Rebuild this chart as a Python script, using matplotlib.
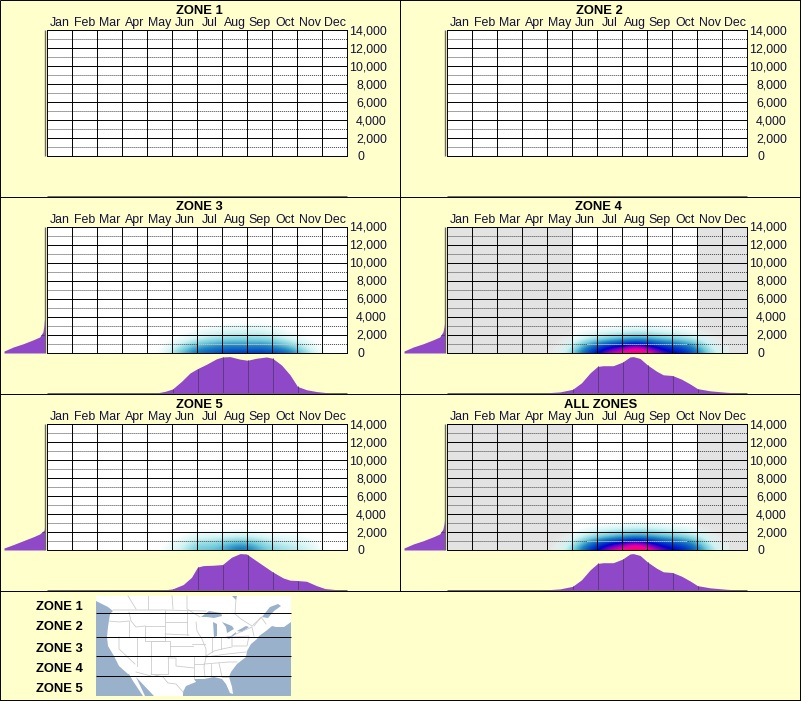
import matplotlib
matplotlib.use("Agg")
import matplotlib.pyplot as plt
import numpy as np
from matplotlib.colors import LinearSegmentedColormap

plt.rcParams["font.family"] = ["Liberation Sans", "DejaVu Sans"]

W, H = 801, 701
BG = "#ffffcc"
PURPLE = "#8f48c8"
DARK_PURPLE = "#5c3a80"
OLIVE = "#6c6c58"
TEXT = "#14103a"
SEA = "#9ab1cb"
THIN = 0.7  # one pixel after snapping
DOTS = (0, (1.03, 1.03))

MONTHS = ["Jan", "Feb", "Mar", "Apr", "May", "Jun", "Jul", "Aug", "Sep", "Oct", "Nov", "Dec"]
ELEV_TICKS = [0, 2000, 4000, 6000, 8000, 10000, 12000, 14000]
ELEV_LABELS = ["0", "2,000", "4,000", "6,000", "8,000", "10,000", "12,000", "14,000"]
DOTTED_ELEVS = [1000, 3000, 5000, 7000, 9000, 11000, 13000]

HEAT_MONTHS = [4, 4.5, 5, 5.5, 6, 6.5, 7, 7.5, 8, 8.5, 9, 9.5, 10, 10.5, 11]
HEAT_ELEVS = [0, 500, 1000, 1500, 2000, 2500, 3000, 3500]

# density by elevation (rows) and month (columns), 0 to 1
heat_zone3 = [
    [0, .02, .20, .38, .50, .55, .60, .62, .62, .63, .60, .55, .40, .20, .02],
    [0, 0, .12, .30, .42, .47, .50, .52, .50, .52, .48, .42, .30, .10, 0],
    [0, 0, .06, .18, .30, .36, .40, .42, .40, .42, .38, .30, .18, .06, 0],
    [0, 0, .02, .09, .17, .23, .27, .28, .28, .28, .25, .17, .09, .02, 0],
    [0, 0, 0, .03, .08, .13, .16, .18, .18, .18, .15, .08, .03, 0, 0],
    [0, 0, 0, 0, .03, .06, .09, .11, .11, .11, .07, .03, 0, 0, 0],
    [0, 0, 0, 0, 0, .01, .03, .05, .05, .05, .02, 0, 0, 0, 0],
    [0, 0, 0, 0, 0, 0, 0, .01, .01, 0, 0, 0, 0, 0, 0],
]
heat_zone4 = [
    [0, .06, .27, .55, .72, .88, .93, 1.0, .95, .82, .74, .66, .50, .25, .05],
    [0, .03, .20, .46, .62, .75, .84, .94, .86, .72, .64, .58, .42, .18, .03],
    [0, .01, .12, .32, .48, .58, .64, .72, .66, .56, .50, .44, .30, .11, .01],
    [0, 0, .05, .18, .27, .34, .40, .44, .42, .36, .32, .27, .18, .05, 0],
    [0, 0, .01, .08, .15, .20, .24, .27, .26, .22, .18, .14, .08, .01, 0],
    [0, 0, 0, .02, .05, .08, .10, .14, .13, .10, .08, .05, .02, 0, 0],
    [0, 0, 0, 0, 0, 0, .02, .04, .04, .02, 0, 0, 0, 0, 0],
    [0, 0, 0, 0, 0, 0, 0, 0, 0, 0, 0, 0, 0, 0, 0],
]
heat_zone5 = [
    [0, .01, .08, .18, .32, .32, .37, .48, .50, .36, .27, .22, .18, .12, .01],
    [0, 0, .05, .14, .27, .27, .32, .42, .42, .30, .22, .18, .14, .09, 0],
    [0, 0, .03, .09, .19, .19, .23, .28, .28, .22, .15, .12, .09, .05, 0],
    [0, 0, 0, .04, .10, .10, .12, .15, .15, .11, .07, .06, .04, .01, 0],
    [0, 0, 0, 0, .02, .03, .03, .05, .05, .03, .01, .01, 0, 0, 0],
    [0, 0, 0, 0, 0, 0, 0, 0, 0, 0, 0, 0, 0, 0, 0],
    [0, 0, 0, 0, 0, 0, 0, 0, 0, 0, 0, 0, 0, 0, 0],
    [0, 0, 0, 0, 0, 0, 0, 0, 0, 0, 0, 0, 0, 0, 0],
]
heat_all = [
    [0, .06, .27, .55, .72, .88, .94, 1.0, .96, .83, .74, .66, .50, .25, .05],
    [0, .03, .20, .46, .62, .76, .85, .95, .87, .72, .64, .58, .42, .18, .03],
    [0, .01, .12, .32, .48, .58, .65, .73, .67, .56, .50, .44, .30, .11, .01],
    [0, 0, .05, .18, .27, .34, .40, .44, .42, .36, .32, .27, .18, .05, 0],
    [0, 0, .01, .08, .15, .20, .24, .27, .26, .22, .18, .14, .08, .01, 0],
    [0, 0, 0, .02, .05, .08, .10, .14, .13, .10, .08, .05, .02, 0, 0],
    [0, 0, 0, 0, 0, 0, .02, .04, .04, .02, 0, 0, 0, 0, 0],
    [0, 0, 0, 0, 0, 0, 0, 0, 0, 0, 0, 0, 0, 0, 0],
]

# month profile under each plot
top_x_zone3 = [4.36, 4.7, 5, 5.36, 5.7, 6, 6.36, 6.76, 7, 7.3, 7.7, 8, 8.36, 8.76, 9, 9.36, 9.7, 10, 10.36, 10.76, 11.3]
top_y_zone3 = [0, .045, .11, .32, .55, .67, .79, .94, .99, 1, .93, .9, .955, .99, .955, .77, .5, .18, .09, .04, 0]
top_x_zone4 = [3.83, 4.5, 5, 5.36, 5.7, 6, 6.23, 6.63, 7, 7.3, 7.43, 7.7, 8, 8.36, 8.63, 9, 9.36, 9.7, 10, 10.5, 11.16, 11.7]
top_y_zone4 = [0, .03, .1, .28, .55, .73, .75, .75, .85, .99, 1, .95, .77, .6, .5, .48, .38, .25, .12, .06, .02, 0]
top_x_zone5 = [4.63, 5, 5.43, 5.76, 6, 6.23, 6.63, 7, 7.36, 7.7, 7.96, 8.36, 9, 9.43, 9.7, 10, 10.36, 10.76, 11.1, 11.7]
top_y_zone5 = [0, .03, .15, .35, .63, .67, .68, .7, .9, 1, .99, .8, .5, .33, .27, .26, .24, .12, .04, 0]

# elevation profile left of each plot
side_e_zone3 = [0, 220, 670, 1040, 1480, 1780, 2330, 3070, 3800]
side_w_zone3 = [1, 1, .77, .52, .27, .12, .04, .015, 0]
side_e_zone4 = [0, 220, 670, 1040, 1480, 1780, 2330, 2900, 3300]
side_w_zone4 = [1, 1, .77, .52, .27, .12, .04, .012, 0]
side_e_zone5 = [0, 220, 600, 1040, 1480, 1780, 2200, 2500]
side_w_zone5 = [1, 1, .77, .52, .27, .12, .01, 0]

# map shapes in pixels
land = [(96, 596), (291, 596), (291, 622), (284, 627), (276, 627), (272, 626), (266, 631), (259, 636),
        (257, 639), (251, 644), (247, 651), (246, 657), (237, 664), (231, 672), (229, 677), (232, 687),
        (233, 694), (230, 693), (226, 684), (222, 679), (214, 677), (204, 679), (194, 679), (196, 682),
        (186, 686), (183, 692), (183, 696), (154, 696), (136, 677), (145, 696), (143, 696), (133, 681),
        (129, 674), (128, 674), (119, 666), (114, 656), (108, 646), (107, 637), (108, 627), (110, 614),
        (113, 611), (108, 607), (96, 601)]
water = [
    [(201, 617), (209, 611), (221, 613), (222, 616), (214, 618), (207, 617)],
    [(213, 622), (217, 624), (217, 636), (214, 637)],
    [(222, 622), (232, 626), (234, 629), (227, 633), (226, 627)],
    [(225, 637), (231, 636), (236, 632), (236, 634), (229, 639)],
    [(237, 631), (246, 626), (249, 627), (242, 632)],
    [(262, 617), (270, 607), (278, 604), (281, 606), (274, 611), (268, 618)],
    [(232, 596), (237, 596), (236, 600)],
]
borders = [
    [(113, 610), (165, 610), (206, 611)],
    [(129, 612), (131, 621), (136, 627), (145, 626)],
    [(109, 621), (119, 622), (129, 621)],
    [(107, 637), (137, 637)],
    [(129, 621), (129, 637)],
    [(119, 637), (119, 649), (135, 664)],
    [(137, 637), (137, 666)],
    [(136, 672), (151, 676)],
    [(151, 641), (151, 674)],
    [(145, 626), (165, 626), (165, 641), (145, 641), (145, 626)],
    [(151, 641), (170, 641), (170, 656), (151, 656)],
    [(168, 656), (168, 674), (151, 674)],
    [(151, 674), (163, 677), (168, 683), (176, 684), (183, 692)],
    [(165, 610), (165, 626)],
    [(165, 622), (187, 622)],
    [(165, 634), (189, 635)],
    [(170, 646), (193, 646)],
    [(170, 656), (194, 656)],
    [(168, 658), (176, 658), (176, 666), (194, 668)],
    [(187, 611), (187, 635)],
    [(192, 644), (205, 644)],
    [(194, 656), (207, 656)],
    [(196, 622), (197, 631), (202, 639), (206, 649), (206, 657), (204, 667), (205, 677)],
    [(194, 656), (194, 679)],
    [(194, 664), (204, 664)],
    [(212, 637), (212, 652)],
    [(221, 637), (221, 649)],
    [(206, 656), (214, 651), (222, 649), (232, 647)],
    [(204, 664), (229, 662), (237, 662)],
    [(206, 657), (227, 654), (246, 652)],
    [(211, 664), (211, 677)],
    [(219, 663), (222, 677)],
    [(222, 677), (229, 677)],
    [(232, 637), (249, 636), (247, 646), (232, 646), (232, 637)],
    [(236, 634), (252, 627), (254, 636)],
    [(254, 626), (261, 617), (266, 624)],
    [(236, 599), (235, 614), (241, 619), (252, 626), (262, 617)],
    [(128, 596), (136, 609)],
    [(148, 596), (148, 609)],
    [(172, 596), (173, 609)],
    [(187, 596), (187, 609), (200, 617)],
]
zone_lines = [613, 637, 656, 676]
zone_names = ["ZONE 1", "ZONE 2", "ZONE 3", "ZONE 4", "ZONE 5"]
zone_label_y = [606.5, 626.5, 648.5, 668.5, 688.5]

heat_cmap = LinearSegmentedColormap.from_list("heat", [
    (0.0, (1, 1, 1, 0)),
    (0.04, (0.88, 0.97, 0.97, 0.5)),
    (0.14, (0.80, 0.95, 0.95, 1)),
    (0.30, (0.45, 0.80, 0.86, 1)),
    (0.45, (0.12, 0.52, 0.75, 1)),
    (0.60, (0, 0.25, 0.78, 1)),
    (0.72, (0, 0, 0.80, 1)),
    (0.82, (0.50, 0, 0.75, 1)),
    (0.92, (0.95, 0, 0.62, 1)),
    (1.0, (1, 0, 0.40, 1)),
])


def axes_px(fig, x0, y0, x1, y1):
    return fig.add_axes([x0 / W, 1 - y1 / H, (x1 - x0) / W, (y1 - y0) / H])


def draw_panel(fig, ox, oy, title, heat=None, top=None, side=None, gray=False, white_dots=None, title_dx=0):
    fig.text((ox + 199.5 + title_dx) / W, 1 - (oy + 10.5) / H, title, fontsize=9.4, fontweight="bold",
             color="black", ha="center", va="center")

    ax = axes_px(fig, ox + 47, oy + 30, ox + 347, oy + 156)
    ax.set_facecolor("white")
    ax.set_xlim(0, 12)
    ax.set_ylim(0, 14000)

    if gray:
        ax.axvspan(0, 5, color="#e3e3e3", lw=0, zorder=0)
        ax.axvspan(10, 12, color="#e3e3e3", lw=0, zorder=0)

    if heat is not None:
        ax.imshow(np.array(heat), origin="lower", cmap=heat_cmap, vmin=0, vmax=1, aspect="auto",
                  interpolation="bicubic", interpolation_stage="data", zorder=1,
                  extent=(HEAT_MONTHS[0] - .25, HEAT_MONTHS[-1] + .25, HEAT_ELEVS[0] - 250, HEAT_ELEVS[-1] + 250))
        ax.set_xlim(0, 12)
        ax.set_ylim(0, 14000)

    ax.hlines(DOTTED_ELEVS, 0, 12, color="#444444", lw=THIN, linestyle=DOTS, zorder=2)
    if white_dots is not None:
        ax.hlines(1000, white_dots[0], white_dots[1], color="white", lw=THIN, linestyle=DOTS, zorder=3)
    ax.hlines(ELEV_TICKS[1:], 0, 12, color="black", lw=THIN, zorder=4)
    ax.vlines(range(1, 12), 0, 14000, color="black", lw=THIN, zorder=4)
    for spine in ax.spines.values():
        spine.set_linewidth(THIN)
        spine.set_zorder(5)

    ax.set_xticks(np.arange(12) + 0.5)
    ax.set_xticklabels(MONTHS)
    ax.xaxis.tick_top()
    ax.tick_params(axis="x", length=0, pad=0.4, labelsize=8.9, labelcolor=TEXT)
    ax.set_yticks([])
    for val, lab in zip(ELEV_TICKS, ELEV_LABELS):
        if lab == "0":
            ax.annotate(lab, (12, val), xytext=(10, -1), textcoords="offset pixels", fontsize=8.9,
                        color=TEXT, ha="left", va="center", annotation_clip=False)
        else:
            ax.annotate(lab, (12, val), xytext=(40, -1), textcoords="offset pixels", fontsize=8.9,
                        color=TEXT, ha="right", va="center", annotation_clip=False)

    # month profile
    t = axes_px(fig, ox + 47.5, oy + 159.6, ox + 347.5, oy + 196)
    t.axis("off")
    t.set_xlim(0, 12)
    t.set_ylim(0, 1)
    if top is not None:
        t.fill_between(top[0], top[1], 0, color=PURPLE, lw=0)
        for m in range(5, 11):
            t.vlines(m, 0, np.interp(m, top[0], top[1]), color=DARK_PURPLE, lw=THIN)

    # elevation profile
    s = axes_px(fig, ox + 4, oy + 30, ox + 44.5, oy + 156)
    s.axis("off")
    s.set_xlim(1, 0)
    s.set_ylim(0, 14000)
    if side is not None:
        s.fill_betweenx(side[0], side[1], 0, color=PURPLE, lw=0)
        s.hlines(2000, 0, np.interp(2000, side[0], side[1]), color=DARK_PURPLE, lw=THIN)


fig = plt.figure(figsize=(W / 100, H / 100), dpi=100, facecolor=BG)

# whole figure layer in pixels: frame and map
base = fig.add_axes([0, 0, 1, 1])
base.set_xlim(0, W)
base.set_ylim(H, 0)
base.axis("off")

base.add_patch(plt.Rectangle((96, 596), 195, 100, facecolor=SEA, lw=0))
base.add_patch(plt.Polygon(land, closed=True, facecolor="white", lw=0))
for shape in water:
    base.add_patch(plt.Polygon(shape, closed=True, facecolor=SEA, lw=0))
for line in borders:
    xs, ys = zip(*line)
    base.plot(xs, ys, color="#cccccc", lw=0.6, solid_joinstyle="round")
base.hlines(zone_lines, 96, 291, color="black", lw=THIN)
for name, y in zip(zone_names, zone_label_y):
    base.text(36, y, name, fontsize=9.4, fontweight="bold", color="black", ha="left", va="center")

base.hlines([0, 197, 394, 591, 700], 0, W, color="black", lw=THIN, clip_on=False)
base.vlines([0, 800], 0, H, color="black", lw=THIN, clip_on=False)
base.vlines(400, 0, 591, color="black", lw=THIN)

for ox in (0, 400):
    for oy in (0, 197, 394):
        base.hlines(oy + 196, ox + 47, ox + 347, color=OLIVE, lw=THIN)
        base.vlines(ox + 44.5, oy + 30, oy + 156, color=OLIVE, lw=1.0)

draw_panel(fig, 0, 0, "ZONE 1")
draw_panel(fig, 400, 0, "ZONE 2")
draw_panel(fig, 0, 197, "ZONE 3", heat_zone3, (top_x_zone3, top_y_zone3), (side_e_zone3, side_w_zone3),
           white_dots=(6, 10))
draw_panel(fig, 400, 197, "ZONE 4", heat_zone4, (top_x_zone4, top_y_zone4), (side_e_zone4, side_w_zone4),
           gray=True, white_dots=(5.6, 9.6), title_dx=-1.5)
draw_panel(fig, 0, 394, "ZONE 5", heat_zone5, (top_x_zone5, top_y_zone5), (side_e_zone5, side_w_zone5))
draw_panel(fig, 400, 394, "ALL ZONES", heat_all, (top_x_zone4, top_y_zone4), (side_e_zone4, side_w_zone4),
           gray=True, white_dots=(5.6, 9.6), title_dx=1)

fig.savefig("out.png", dpi=100, facecolor=BG)
